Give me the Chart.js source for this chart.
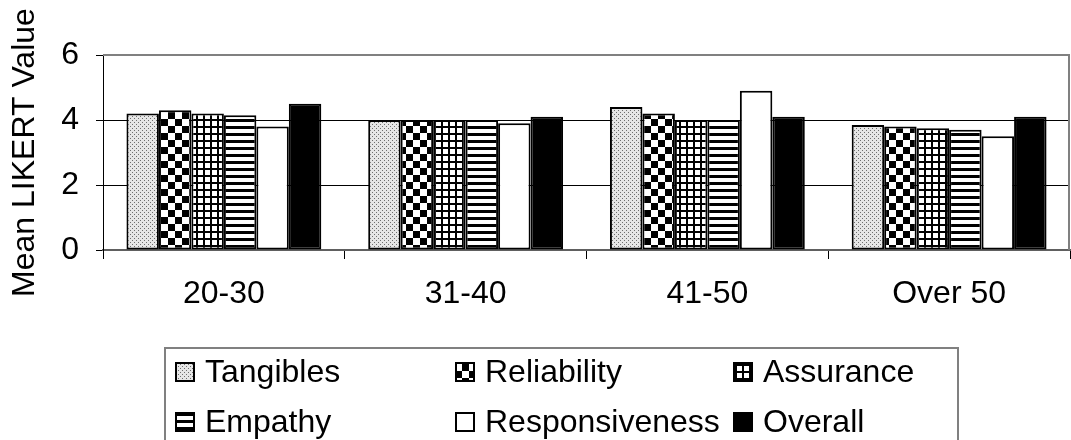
<!DOCTYPE html>
<html>
<head>
<meta charset="utf-8">
<script src="https://cdn.jsdelivr.net/npm/chart.js@4/dist/chart.umd.min.js"></script>
<style>
  html, body { margin: 0; padding: 0; background: #fff; }
  #wrap { width: 1071px; height: 440px; }
</style>
</head>
<body>
<div id="wrap"><canvas id="myChart" width="1071" height="440"></canvas></div>
<script>
// age groups on the x axis
const ageGroups = ['20-30', '31-40', '41-50', 'Over 50'];

// mean likert value per dimension, one entry per age group
const tangibles      = [4.2, 4.0, 4.4, 3.85];
const reliability    = [4.3, 4.0, 4.2, 3.8];
const assurance      = [4.2, 4.0, 4.0, 3.75];
const empathy        = [4.15, 4.0, 4.0, 3.7];
const responsiveness = [3.8, 3.9, 4.9, 3.5];
const overall        = [4.5, 4.1, 4.1, 4.1];

const yTicks = [0, 2, 4, 6];

const FONT = "'Liberation Sans', Arial, sans-serif";
const FS = 32;

// small tile canvases turned into fill patterns
function makePattern(w, h, draw) {
  const c = document.createElement('canvas');
  c.width = w; c.height = h;
  const g = c.getContext('2d');
  draw(g);
  return g.createPattern(c, 'repeat');
}

const ctx = document.getElementById('myChart').getContext('2d');

const dotted = makePattern(4, 4, g => {
  g.fillStyle = '#e6e6e6'; g.fillRect(0, 0, 4, 4);
  g.fillStyle = '#6e6e6e';
  g.fillRect(0, 0, 1, 1); g.fillRect(2, 2, 1, 1);
});
const checker = makePattern(14, 14, g => {
  g.fillStyle = '#fff'; g.fillRect(0, 0, 14, 14);
  g.fillStyle = '#000';
  g.fillRect(0, 0, 7, 7); g.fillRect(7, 7, 7, 7);
});
const grid = makePattern(7, 7, g => {
  g.fillStyle = '#fff'; g.fillRect(0, 0, 7, 7);
  g.fillStyle = '#000';
  g.fillRect(0, 0, 2, 7); g.fillRect(0, 0, 7, 2);
});
const stripes = makePattern(7, 7, g => {
  g.fillStyle = '#fff'; g.fillRect(0, 0, 7, 7);
  g.fillStyle = '#000';
  g.fillRect(0, 0, 7, 3);
});

// plot border (grey top + right) like the excel plot area
const plotBorder = {
  id: 'plotBorder',
  beforeDatasetsDraw(chart) {
    const a = chart.chartArea, c = chart.ctx;
    c.save();
    c.strokeStyle = '#808080';
    c.lineWidth = 2;
    c.beginPath();
    c.moveTo(a.left, a.top);
    c.lineTo(a.right - 1, a.top);
    c.lineTo(a.right - 1, a.bottom);
    c.stroke();
    c.restore();
  }
};

// boxed legend with 3 aligned columns
const boxLegend = {
  id: 'boxLegend',
  afterDraw(chart) {
    const c = chart.ctx;
    const cols = [175, 455, 733];
    const rows = [372, 422];
    c.save();
    c.strokeStyle = '#808080';
    c.lineWidth = 2;
    c.strokeRect(165, 348, 793, 120);
    c.font = FS + 'px ' + FONT;
    c.textBaseline = 'middle';
    chart.data.datasets.forEach((ds, i) => {
      const x = cols[i % 3], y = rows[Math.floor(i / 3)];
      c.fillStyle = ds.backgroundColor;
      c.fillRect(x, y - 10, 20, 20);
      c.strokeStyle = '#000';
      c.lineWidth = 2;
      c.strokeRect(x + 1, y - 9, 18, 18);
      c.fillStyle = '#000';
      c.fillText(ds.label, x + 30, y + 1);
    });
    c.restore();
  }
};

const barStyle = { borderColor: '#000', borderWidth: 2, borderSkipped: false };

const chart = new Chart(ctx, {
  type: 'bar',
  data: {
    labels: ageGroups,
    datasets: [
      { label: 'Tangibles', data: tangibles, backgroundColor: dotted, ...barStyle },
      { label: 'Reliability', data: reliability, backgroundColor: checker, ...barStyle },
      { label: 'Assurance', data: assurance, backgroundColor: grid, ...barStyle },
      { label: 'Empathy', data: empathy, backgroundColor: stripes, ...barStyle },
      { label: 'Responsiveness', data: responsiveness, backgroundColor: '#fff', ...barStyle },
      { label: 'Overall', data: overall, backgroundColor: '#000', ...barStyle }
    ]
  },
  options: {
    responsive: false,
    animation: false,
    layout: { padding: { top: 55, right: 1, left: 0, bottom: 0 } },
    datasets: { bar: { categoryPercentage: 0.806, barPercentage: 1.0 } },
    plugins: {
      legend: { display: false },
      tooltip: { enabled: false }
    },
    scales: {
      x: {
        afterFit(scale) { scale.height = 190; },
        grid: { offset: true, drawOnChartArea: false, drawTicks: true, tickLength: 9, tickColor: '#000' },
        border: { color: '#606060', width: 2 },
        ticks: { color: '#000', font: { family: FONT, size: FS }, padding: 16, maxRotation: 0 }
      },
      y: {
        min: 0,
        max: 6,
        afterFit(scale) { scale.width = 103; },
        afterBuildTicks(scale) { scale.ticks = yTicks.map(v => ({ value: v })); },
        grid: {
          color: c => (c.tick && (c.tick.value === 6 || c.tick.value === 0)) ? 'rgba(0,0,0,0)' : '#000',
          tickColor: '#000',
          tickLength: 7,
          lineWidth: 1
        },
        border: { color: '#000', width: 1 },
        ticks: { color: '#000', font: { family: FONT, size: FS }, padding: 17 },
        title: {
          display: true,
          text: 'Mean LIKERT Value',
          color: '#000',
          font: { family: FONT, size: FS },
          padding: { top: 6, bottom: 0 }
        }
      }
    }
  },
  plugins: [plotBorder, boxLegend]
});
</script>
</body>
</html>
